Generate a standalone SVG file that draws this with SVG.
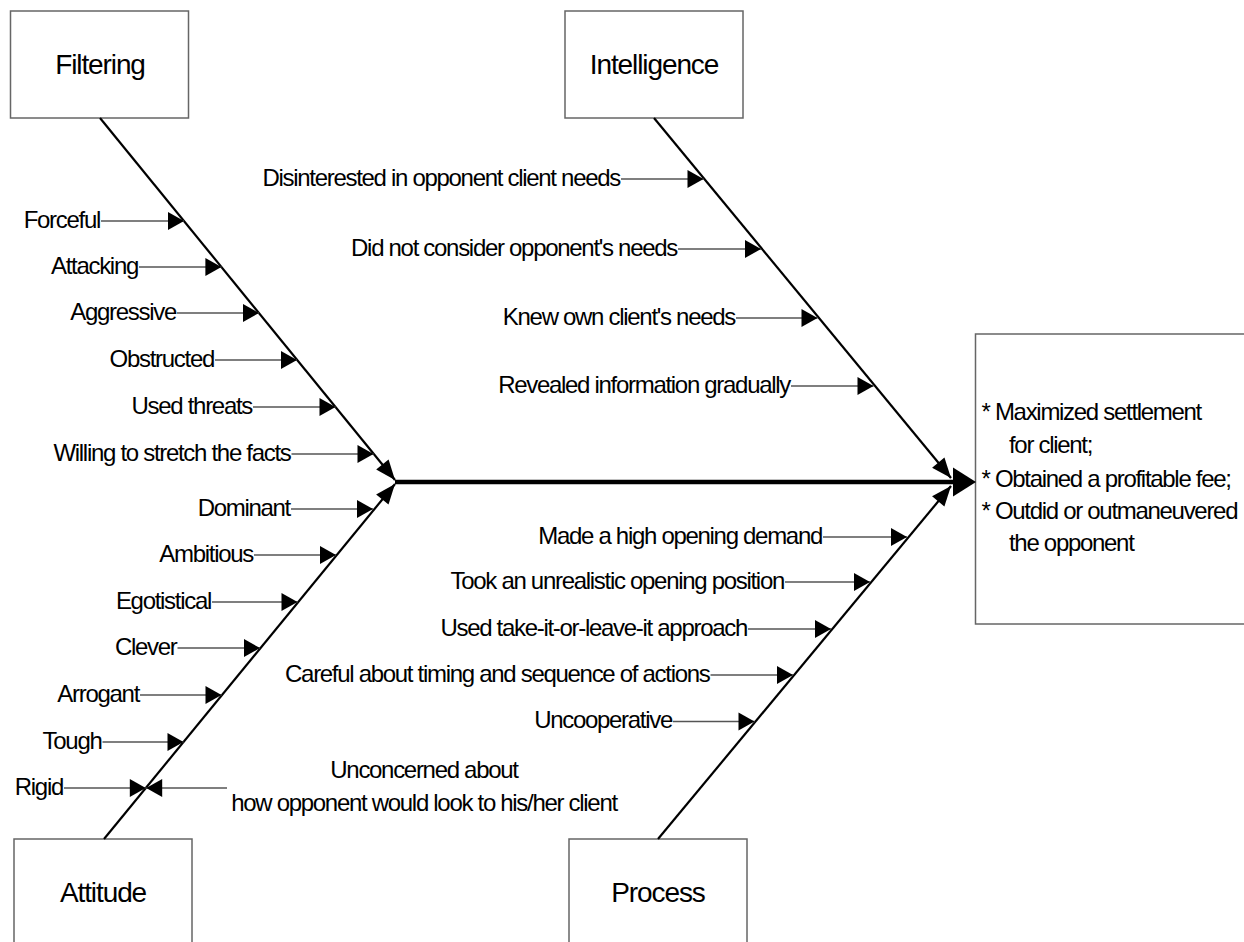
<svg xmlns="http://www.w3.org/2000/svg" width="1244" height="942" viewBox="0 0 1244 942">
<style>
.box{fill:#fff;stroke:#666;stroke-width:1.5}
.title{font-family:"Liberation Sans",Arial,sans-serif;font-size:28px;letter-spacing:-1.1px;fill:#000;text-anchor:middle}
.lbl{font-family:"Liberation Sans",Arial,sans-serif;font-size:24px;letter-spacing:-1.3px;fill:#000}
.end{text-anchor:end}
.mid{text-anchor:middle}
.bone{stroke:#000;stroke-width:2.2;fill:none}
.spine{stroke:#000;stroke-width:4.5;fill:none}
.sm{stroke:#555;stroke-width:1.3;fill:none;marker-end:url(#sa)}
</style>
<defs>
<marker id="sa" markerUnits="userSpaceOnUse" markerWidth="18" markerHeight="20" refX="16" refY="9" orient="auto" overflow="visible"><path d="M0,0 L16,9 L0,18 z" fill="#000"/></marker>
<marker id="ba" markerUnits="userSpaceOnUse" markerWidth="22" markerHeight="18" refX="20" refY="8" orient="auto" overflow="visible"><path d="M0,0 L20,8 L0,16 z" fill="#000"/></marker>
<marker id="pa" markerUnits="userSpaceOnUse" markerWidth="26" markerHeight="30" refX="2" refY="14.5" orient="auto" overflow="visible"><path d="M0,0 L23,14.5 L0,29 z" fill="#000"/></marker>
</defs>

<g id="filtering"><rect class="box" x="10.5" y="11" width="178" height="107"/><text class="title" x="100" y="74">Filtering</text></g>
<g id="intelligence"><rect class="box" x="565" y="11" width="178" height="107"/><text class="title" x="654" y="74">Intelligence</text></g>
<g id="attitude"><rect class="box" x="14" y="839" width="178" height="110"/><text class="title" x="103" y="902">Attitude</text></g>
<g id="process"><rect class="box" x="569" y="839" width="178" height="110"/><text class="title" x="658" y="902">Process</text></g>
<g id="outcome"><rect class="box" x="975.5" y="334" width="280" height="290"/>
<text class="lbl" x="981.5" y="420">* Maximized settlement</text>
<text class="lbl" x="1009" y="453">for client;</text>
<text class="lbl" x="981.5" y="486.5">* Obtained a profitable fee;</text>
<text class="lbl" x="981.5" y="518.5">* Outdid or outmaneuvered</text>
<text class="lbl" x="1009" y="551">the opponent</text>
</g>

<g id="connectors">
<path class="spine" d="M395,482 H955" marker-end="url(#pa)"/>
<path class="bone" d="M100,118 L395,480" marker-end="url(#ba)"/>
<path class="bone" d="M104,839 L395,484" marker-end="url(#ba)"/>
<path class="bone" d="M654,118 L951,478" marker-end="url(#ba)"/>
<path class="bone" d="M658,839 L951,486" marker-end="url(#ba)"/>

<path class="sm" d="M101,221 H184"/>
<path class="sm" d="M139,267 H221.4"/>
<path class="sm" d="M177,313 H259"/>
<path class="sm" d="M215,360 H297"/>
<path class="sm" d="M253,407 H335.5"/>
<path class="sm" d="M291.5,454 H373.5"/>

<path class="sm" d="M291,509 H373"/>
<path class="sm" d="M254,555 H336"/>
<path class="sm" d="M212,602 H297.5"/>
<path class="sm" d="M177.5,648 H260"/>
<path class="sm" d="M140,695 H221.5"/>
<path class="sm" d="M102.5,742 H183.5"/>
<path class="sm" d="M64,788 H145.8"/>
<path class="sm" d="M227,788 H146.2"/>

<path class="sm" d="M621,179 H703.5"/>
<path class="sm" d="M678,249 H761"/>
<path class="sm" d="M736,318 H817.5"/>
<path class="sm" d="M791,386 H873.5"/>

<path class="sm" d="M823,537 H907"/>
<path class="sm" d="M785,582 H870"/>
<path class="sm" d="M748,629 H831"/>
<path class="sm" d="M710.5,675 H793"/>
<path class="sm" d="M673,721.5 H754.5"/>
</g>

<g id="labels">
<text class="lbl end" x="100" y="228">Forceful</text>
<text class="lbl end" x="138" y="274">Attacking</text>
<text class="lbl end" x="176" y="320">Aggressive</text>
<text class="lbl end" x="214" y="367">Obstructed</text>
<text class="lbl end" x="252" y="414">Used threats</text>
<text class="lbl end" x="290.5" y="461">Willing to stretch the facts</text>

<text class="lbl end" x="290" y="516">Dominant</text>
<text class="lbl end" x="253" y="562">Ambitious</text>
<text class="lbl end" x="211" y="609">Egotistical</text>
<text class="lbl end" x="176.5" y="655">Clever</text>
<text class="lbl end" x="139" y="702">Arrogant</text>
<text class="lbl end" x="101.5" y="749">Tough</text>
<text class="lbl end" x="63" y="795">Rigid</text>
<text class="lbl mid" x="424" y="778">Unconcerned about</text>
<text class="lbl mid" x="424" y="810.5">how opponent would look to his/her client</text>

<text class="lbl end" x="620" y="185.5">Disinterested in opponent client needs</text>
<text class="lbl end" x="677" y="255.5">Did not consider opponent's needs</text>
<text class="lbl end" x="735" y="324.5">Knew own client's needs</text>
<text class="lbl end" x="790" y="392.5">Revealed information gradually</text>

<text class="lbl end" x="822" y="543.5">Made a high opening demand</text>
<text class="lbl end" x="784" y="588.5">Took an unrealistic opening position</text>
<text class="lbl end" x="747" y="635.5">Used take-it-or-leave-it approach</text>
<text class="lbl end" x="709.5" y="681.5">Careful about timing and sequence of actions</text>
<text class="lbl end" x="672" y="728">Uncooperative</text>
</g>
</svg>
